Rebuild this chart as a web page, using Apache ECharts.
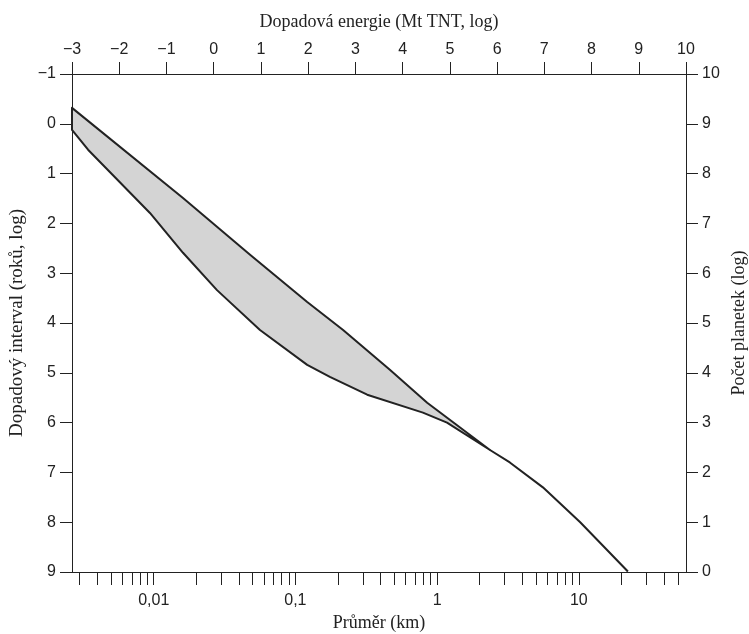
<!DOCTYPE html>
<html lang="cs">
<head>
<meta charset="UTF-8">
<title>Dopadová energie</title>
<script src="https://cdn.jsdelivr.net/npm/echarts@6/dist/echarts.min.js"></script>
<style>
  html, body { margin: 0; padding: 0; background: #fff; }
  #chart { width: 749px; height: 634px; }
</style>
</head>
<body>
<div id="chart"></div>
<script>
// horní okraj pásu: [energie (log Mt), interval (log roků)]
var upperLine = [[-3, -0.32], [-0.65, 1.49], [0.77, 2.63], [1.98, 3.58], [2.74, 4.14],
  [3.73, 4.94], [4.52, 5.60], [5.85, 6.55]];
// dolní okraj pásu
var lowerLine = [[-3, 0.12], [-2.66, 0.52], [-1.35, 1.79], [-0.65, 2.59], [0.07, 3.34],
  [0.98, 4.14], [1.98, 4.84], [2.46, 5.08], [3.25, 5.44], [4.43, 5.80], [4.94, 6.00], [5.85, 6.55]];
// společná část křivky
var tailLine = [[5.85, 6.55], [6.27, 6.80], [6.97, 7.30], [7.76, 8.00], [8.77, 8.99]];

// průměr (km) – popisky a dílky spodní osy
var diamLabels = [0.01, 0.1, 1, 10];
var diamTicks = [0.003, 0.004, 0.005, 0.006, 0.007, 0.008, 0.009, 0.01,
  0.02, 0.03, 0.04, 0.05, 0.06, 0.07, 0.08, 0.09, 0.1,
  0.2, 0.3, 0.4, 0.5, 0.6, 0.7, 0.8, 0.9, 1,
  2, 3, 4, 5, 6, 7, 8, 9, 10, 20, 30, 40, 50];
// energie = 3 * log10(průměr) + posun
var energyOffset = 4.73;
var energyMin = -3, energyMax = 10;

var sans = 'Liberation Sans';
var serif = 'Liberation Serif';
var ink = '#222';

function minus(v) { return String(v).replace('-', '\u2212'); }

var chart = echarts.init(document.getElementById('chart'));

var axisCommon = {
  axisLine: { show: true, onZero: false, lineStyle: { color: ink, width: 1 } },
  axisTick: { show: true, length: 12, lineStyle: { color: ink, width: 1 } },
  splitLine: { show: false },
  axisLabel: { color: ink, fontFamily: sans, fontSize: 16 },
  nameTextStyle: { color: ink, fontFamily: serif, fontSize: 18 }
};

var option = {
  animation: false,
  backgroundColor: '#fff',
  grid: { left: 72, right: 63, top: 74, bottom: 62, containLabel: false, outerBoundsMode: 'none' },
  xAxis: [
    Object.assign({}, axisCommon, {
      type: 'value', position: 'top', min: energyMin, max: energyMax, interval: 1,
      name: 'Dopadová energie (Mt TNT, log)', nameLocation: 'middle', nameGap: 43,
      axisLabel: Object.assign({}, axisCommon.axisLabel, { margin: 16, formatter: minus })
    }),
    Object.assign({}, axisCommon, {
      type: 'value', position: 'bottom',
      min: (energyMin - energyOffset) / 3, max: (energyMax - energyOffset) / 3,
      name: 'Průměr (km)', nameLocation: 'middle', nameGap: 42,
      axisTick: Object.assign({}, axisCommon.axisTick, {
        length: 13, customValues: diamTicks.map(function (d) { return Math.log10(d); })
      }),
      axisLabel: Object.assign({}, axisCommon.axisLabel, {
        margin: 21,
        customValues: diamLabels.map(function (d) { return Math.log10(d); }),
        formatter: function (v) {
          var d = Math.pow(10, Math.round(v));
          return String(d).replace('.', ',');
        }
      })
    })
  ],
  yAxis: [
    Object.assign({}, axisCommon, {
      type: 'value', position: 'left', inverse: true, min: -1, max: 9, interval: 1,
      name: 'Dopadový interval (roků, log)', nameLocation: 'middle', nameGap: 45, nameRotate: 90,
      nameTextStyle: { color: ink, fontFamily: serif, fontSize: 19 },
      axisLabel: Object.assign({}, axisCommon.axisLabel, { margin: 16, formatter: minus })
    }),
    Object.assign({}, axisCommon, {
      type: 'value', position: 'right', min: 0, max: 10, interval: 1,
      name: 'Počet planetek (log)', nameLocation: 'middle', nameGap: 43, nameRotate: 90,
      nameTextStyle: { color: ink, fontFamily: serif, fontSize: 18 },
      axisLabel: Object.assign({}, axisCommon.axisLabel, { margin: 16 })
    })
  ],
  series: [
    {
      type: 'custom',
      xAxisIndex: 0, yAxisIndex: 0,
      data: [[0, 0]],
      silent: true,
      renderItem: function (params, api) {
        var pts = upperLine.concat(lowerLine.slice().reverse()).map(function (p) {
          return api.coord(p);
        });
        return {
          type: 'polygon',
          shape: { points: pts },
          style: { fill: '#d4d4d4', stroke: ink, lineWidth: 2, lineJoin: 'round' }
        };
      }
    },
    {
      type: 'line', xAxisIndex: 0, yAxisIndex: 0, data: tailLine,
      showSymbol: false, symbol: 'none', silent: true,
      lineStyle: { color: ink, width: 2 }
    }
  ]
};

chart.setOption(option);
</script>
</body>
</html>
